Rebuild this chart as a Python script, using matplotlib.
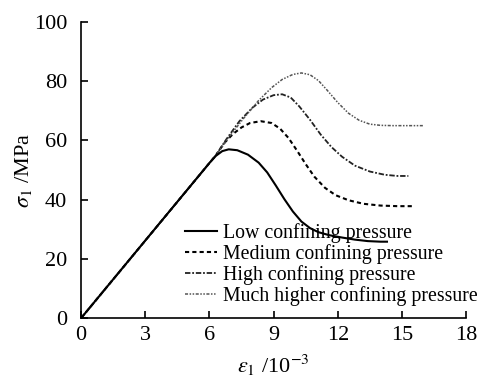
import matplotlib
matplotlib.use("Agg")
import matplotlib.pyplot as plt

plt.rcParams['font.family'] = ['Liberation Serif', 'DejaVu Serif']
plt.rcParams['mathtext.fontset'] = 'stix'

# strain (10^-3) and stress (MPa)
low_x = [0, 3, 6.0, 6.3, 6.6, 6.9, 7.3, 7.8, 8.3, 8.7, 9.1, 9.5, 9.9, 10.3, 10.7, 11.1, 11.6, 12.2, 12.8, 13.4, 14.0, 14.3]
low_y = [0, 26.2, 52.4, 54.8, 56.4, 57.0, 56.7, 55.2, 52.5, 49.2, 44.8, 40.2, 36.0, 32.6, 30.4, 29.0, 28.0, 27.2, 26.5, 26.0, 25.8, 25.8]

med_x = [0, 6.3, 6.7, 7.1, 7.5, 7.9, 8.4, 8.9, 9.3, 9.7, 10.1, 10.5, 10.9, 11.4, 11.9, 12.5, 13.2, 14.0, 14.8, 15.5]
med_y = [0, 55, 59.2, 62.2, 64.4, 65.9, 66.5, 65.9, 64.0, 60.8, 56.5, 52.0, 47.8, 44.0, 41.5, 39.8, 38.6, 38.0, 37.8, 37.8]

high_x = [0, 6.3, 6.8, 7.4, 8.0, 8.5, 9.0, 9.4, 9.8, 10.2, 10.7, 11.2, 11.7, 12.2, 12.8, 13.5, 14.2, 14.8, 15.3]
high_y = [0, 55, 60.5, 66.5, 71.0, 73.8, 75.3, 75.6, 74.5, 71.5, 67.0, 62.0, 57.8, 54.5, 51.5, 49.5, 48.4, 48.0, 48.0]

much_x = [0, 6.3, 6.9, 7.6, 8.3, 8.9, 9.4, 9.9, 10.3, 10.7, 11.1, 11.5, 12.0, 12.5, 13.0, 13.5, 14.0, 14.6, 15.3, 16.0]
much_y = [0, 55, 61, 67.5, 73.5, 77.8, 80.6, 82.3, 82.8, 82.2, 80.2, 77.0, 72.8, 69.2, 66.8, 65.5, 65.1, 65.0, 65.0, 65.0]

labels = ['Low confining pressure', 'Medium confining pressure',
          'High confining pressure', 'Much higher confining pressure']

fig = plt.figure(figsize=(4.83, 3.8), dpi=100)
ax = fig.add_axes([0.168, 0.163, 0.797, 0.779])

ax.plot(low_x, low_y, color='black', lw=1.5, zorder=5, label=labels[0])
ax.plot(med_x, med_y, color='black', lw=1.5, linestyle=(0, (2, 1.5)), label=labels[1])
ax.plot(high_x, high_y, color='#222222', lw=1.3, linestyle=(0, (3, 1, 1, 1)), label=labels[2])
ax.plot(much_x, much_y, color='#555555', lw=1.1, linestyle=(0, (2, 1, 1, 1, 1, 1)), label=labels[3])

ax.set_xlim(0, 18)
ax.set_ylim(0, 100)
ax.set_xticks(range(0, 19, 3))
ax.set_yticks(range(0, 101, 20))
for s in ['top', 'right']:
    ax.spines[s].set_visible(False)
for s in ['left', 'bottom']:
    ax.spines[s].set_linewidth(1.2)
ax.tick_params(direction='in', length=5, width=1.2, labelsize=16)
ax.tick_params(axis='x', pad=6)
ax.tick_params(axis='y', pad=10)

ax.set_xlabel(r'$\varepsilon_1$ /10$^{-3}$', fontsize=16, labelpad=5)
ax.set_ylabel(r'$\sigma_1$ /MPa', fontsize=16, labelpad=0)

fig.legend(loc='lower right', bbox_to_anchor=(0.99, 0.195), frameon=False, fontsize=14.3,
           handlelength=1.65, handletextpad=0.3, labelspacing=0.05, borderpad=0,
           borderaxespad=0)

fig.savefig('out.png', dpi=100)
